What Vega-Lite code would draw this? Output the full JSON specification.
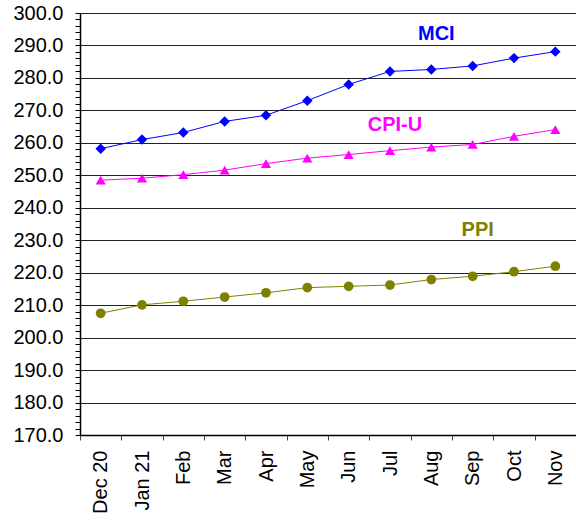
{
  "$schema": "https://vega.github.io/schema/vega-lite/v6.json",
  "autosize": "none",
  "width": 496,
  "height": 422,
  "padding": {"left": 80, "top": 13, "right": 0, "bottom": 85},
  "background": "white",
  "config": {"view": {"stroke": null}, "font": "Liberation Sans"},
  "datasets": {
    "series": [
      {"month": "Dec 20", "series": "MCI", "value": 258.2},
      {"month": "Jan 21", "series": "MCI", "value": 261.0},
      {"month": "Feb", "series": "MCI", "value": 263.2},
      {"month": "Mar", "series": "MCI", "value": 266.6},
      {"month": "Apr", "series": "MCI", "value": 268.5},
      {"month": "May", "series": "MCI", "value": 273.0},
      {"month": "Jun", "series": "MCI", "value": 278.0},
      {"month": "Jul", "series": "MCI", "value": 282.0},
      {"month": "Aug", "series": "MCI", "value": 282.6},
      {"month": "Sep", "series": "MCI", "value": 283.7},
      {"month": "Oct", "series": "MCI", "value": 286.1},
      {"month": "Nov", "series": "MCI", "value": 288.1},
      {"month": "Dec 20", "series": "CPI-U", "value": 248.5},
      {"month": "Jan 21", "series": "CPI-U", "value": 249.1},
      {"month": "Feb", "series": "CPI-U", "value": 250.2},
      {"month": "Mar", "series": "CPI-U", "value": 251.6},
      {"month": "Apr", "series": "CPI-U", "value": 253.6},
      {"month": "May", "series": "CPI-U", "value": 255.3},
      {"month": "Jun", "series": "CPI-U", "value": 256.4},
      {"month": "Jul", "series": "CPI-U", "value": 257.6},
      {"month": "Aug", "series": "CPI-U", "value": 258.7},
      {"month": "Sep", "series": "CPI-U", "value": 259.5},
      {"month": "Oct", "series": "CPI-U", "value": 262.0},
      {"month": "Nov", "series": "CPI-U", "value": 264.1},
      {"month": "Dec 20", "series": "PPI", "value": 207.5},
      {"month": "Jan 21", "series": "PPI", "value": 210.1},
      {"month": "Feb", "series": "PPI", "value": 211.2},
      {"month": "Mar", "series": "PPI", "value": 212.5},
      {"month": "Apr", "series": "PPI", "value": 213.8},
      {"month": "May", "series": "PPI", "value": 215.4},
      {"month": "Jun", "series": "PPI", "value": 215.8},
      {"month": "Jul", "series": "PPI", "value": 216.2},
      {"month": "Aug", "series": "PPI", "value": 217.9},
      {"month": "Sep", "series": "PPI", "value": 218.9},
      {"month": "Oct", "series": "PPI", "value": 220.3},
      {"month": "Nov", "series": "PPI", "value": 222.0}
    ],
    "labels": [
      {"month": "Aug", "series": "MCI", "value": 293.4},
      {"month": "Jul", "series": "CPI-U", "value": 265.6},
      {"month": "Sep", "series": "PPI", "value": 233.1}
    ]
  },
  "encoding": {
    "x": {
      "field": "month",
      "type": "ordinal",
      "sort": ["Dec 20", "Jan 21", "Feb", "Mar", "Apr", "May", "Jun", "Jul", "Aug", "Sep", "Oct", "Nov"],
      "scale": {"paddingInner": 0, "paddingOuter": 0},
      "axis": {
        "title": null,
        "labelAngle": -90,
        "labelAlign": "right",
        "labelBaseline": "middle",
        "labelFontSize": 20,
        "labelColor": "black",
        "labelPadding": 10,
        "tickBand": "extent",
        "tickSize": 5,
        "tickColor": "#444",
        "domainColor": "black",
        "domainWidth": 1.5,
        "grid": false
      }
    },
    "y": {
      "field": "value",
      "type": "quantitative",
      "scale": {"domain": [170, 300], "nice": false, "zero": false},
      "axis": {
        "title": null,
        "values": [170,172,174,176,178,180,182,184,186,188,190,192,194,196,198,200,202,204,206,208,210,212,214,216,218,220,222,224,226,228,230,232,234,236,238,240,242,244,246,248,250,252,254,256,258,260,262,264,266,268,270,272,274,276,278,280,282,284,286,288,290,292,294,296,298,300],
        "labelExpr": "datum.value % 10 === 0 ? format(datum.value, '.1f') : ''",
        "labelFontSize": 20,
        "labelColor": "black",
        "labelPadding": 12,
        "tickSize": 5,
        "tickColor": "black",
        "domainColor": "black",
        "domainWidth": 1.5,
        "grid": true,
        "gridColor": "#222",
        "gridWidth": 1,
        "gridOpacity": {"condition": {"test": "datum.value % 10 !== 0", "value": 0}, "value": 1}
      }
    }
  },
  "layer": [
    {
      "data": {"name": "series"},
      "mark": {"type": "line", "strokeWidth": 1},
      "encoding": {
        "color": {"field": "series", "type": "nominal", "scale": {"domain": ["MCI", "CPI-U", "PPI"], "range": ["#0000FF", "#FF00FF", "#808000"]}, "legend": null}
      }
    },
    {
      "data": {"name": "series"},
      "mark": {"type": "point", "filled": true, "opacity": 1},
      "encoding": {
        "color": {"field": "series", "type": "nominal", "scale": {"domain": ["MCI", "CPI-U", "PPI"], "range": ["#0000FF", "#FF00FF", "#808000"]}, "legend": null},
        "shape": {"field": "series", "type": "nominal", "scale": {"domain": ["MCI", "CPI-U", "PPI"], "range": ["diamond", "triangle-up", "circle"]}, "legend": null},
        "size": {"field": "series", "type": "nominal", "scale": {"domain": ["MCI", "CPI-U", "PPI"], "range": [110, 95, 90]}, "legend": null}
      }
    },
    {
      "data": {"name": "labels"},
      "mark": {"type": "text", "fontSize": 20, "fontWeight": "bold", "dx": 5},
      "encoding": {
        "text": {"field": "series"},
        "color": {"field": "series", "type": "nominal", "scale": {"domain": ["MCI", "CPI-U", "PPI"], "range": ["#0000FF", "#FF00FF", "#808000"]}, "legend": null}
      }
    }
  ]
}
